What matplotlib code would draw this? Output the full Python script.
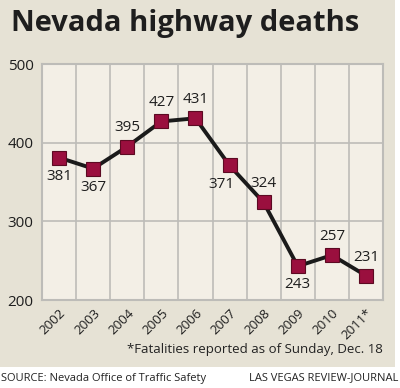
import matplotlib.pyplot as plt
from matplotlib.patches import Rectangle

plt.rcParams['font.family'] = ['Open Sans', 'DejaVu Sans']

years = ['2002', '2003', '2004', '2005', '2006', '2007', '2008', '2009', '2010', '2011*']
deaths = [381, 367, 395, 427, 431, 371, 324, 243, 257, 231]
# where each value label sits relative to its marker
label_pos = ['below', 'below', 'above', 'above', 'above', 'belowleft',
             'above', 'below', 'above', 'above']
yticks = [200, 300, 400, 500]

fig = plt.figure(figsize=(4.0, 3.88), dpi=100)
fig.patch.set_facecolor('white')
# beige panel behind everything except the source strip
fig.patches.append(Rectangle((0, 21 / 388), 395 / 400, 1 - 21 / 388,
                             transform=fig.transFigure, facecolor='#e6e2d5',
                             edgecolor='none', zorder=-1))

ax = fig.add_axes([42 / 400, 1 - 300 / 388, 341 / 400, 236 / 388])
ax.set_facecolor('#f3efe6')

x = list(range(len(years)))
ax.plot(x, deaths, color='#1a1a1a', lw=2.8, zorder=3,
        marker='s', markersize=10.5, markerfacecolor='#9a0f3e',
        markeredgecolor='#5c0a22', markeredgewidth=0.8)

lbl = dict(fontsize=11, color='#1e1e1e', fontweight='medium')
for xi, v, pos in zip(x, deaths, label_pos):
    if pos == 'above':
        ax.annotate(str(v), (xi, v), xytext=(0, 8), textcoords='offset points',
                    ha='center', va='bottom', **lbl)
    elif pos == 'below':
        ax.annotate(str(v), (xi, v), xytext=(0, -8), textcoords='offset points',
                    ha='center', va='top', **lbl)
    else:
        ax.annotate(str(v), (xi, v), xytext=(-6, -8), textcoords='offset points',
                    ha='center', va='top', **lbl)

ax.set_xlim(-0.5, len(years) - 0.5)
ax.set_ylim(200, 500)
ax.set_yticks(yticks)
ax.set_yticklabels([str(t) for t in yticks], fontsize=11, color='#1e1e1e',
                   fontweight='medium')
ax.set_xticks(x)
ax.set_xticklabels(years, rotation=45, ha='right', rotation_mode='anchor',
                   fontsize=9.5, fontweight='medium', color='#1e1e1e')
ax.set_xticks([i + 0.5 for i in x[:-1]], minor=True)
ax.tick_params(which='both', length=0)
ax.tick_params(axis='x', pad=5)
ax.tick_params(axis='y', pad=6)
ax.grid(axis='y', which='major', color='#bdbcb8', lw=1.2)
ax.grid(axis='x', which='minor', color='#bdbcb8', lw=1.2)
ax.set_axisbelow(True)
for s in ax.spines.values():
    s.set_color('#bdbcb8')
    s.set_linewidth(1.5)

fig.text(11 / 400, 1 - 24 / 388, 'Nevada highway deaths', fontsize=21,
         fontweight='bold', color='#1e1e1e', va='center', ha='left')
fig.text(383 / 400, 1 - 350 / 388, '*Fatalities reported as of Sunday, Dec. 18',
         fontsize=9.5, color='#222222', ha='right', va='center')
fig.text(1 / 400, 1 - 378 / 388, 'SOURCE: Nevada Office of Traffic Safety',
         fontsize=8.0, color='#222222', ha='left', va='center')
fig.text(398 / 400, 1 - 378 / 388, 'LAS VEGAS REVIEW-JOURNAL',
         fontsize=8.0, color='#222222', ha='right', va='center')

fig.savefig('out.png', dpi=100, facecolor=fig.get_facecolor())
